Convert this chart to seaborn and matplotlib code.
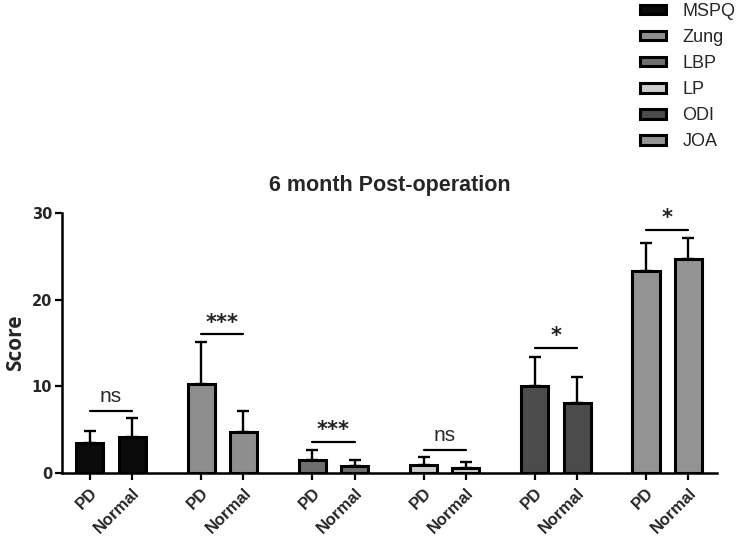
import numpy as np
import pandas as pd
import seaborn as sns
import matplotlib
matplotlib.use("Agg")
import matplotlib.pyplot as plt
from matplotlib.patches import Patch

# ---- data ----
metrics = ["MSPQ", "Zung", "LBP", "LP", "ODI", "JOA"]
groups = ["PD", "Normal"]
pd_means = [3.5, 10.3, 1.5, 0.9, 10.0, 23.3]
normal_means = [4.2, 4.7, 0.8, 0.6, 8.1, 24.7]
pd_err = [1.4, 4.8, 1.2, 0.9, 3.4, 3.2]
normal_err = [2.1, 2.4, 0.7, 0.7, 3.0, 2.4]
sig_labels = ["ns", "***", "***", "ns", "*", "*"]
sig_heights = [7.1, 16.0, 3.6, 2.65, 14.4, 28.1]
colors = ["#0b0b0b", "#8e8e8e", "#6f6f6f", "#cdcdcd", "#4b4b4b", "#939393"]
yticks = [0, 10, 20, 30]

df = pd.DataFrame({
    "metric": metrics * 2,
    "group": ["PD"] * 6 + ["Normal"] * 6,
    "score": pd_means + normal_means,
    "err": pd_err + normal_err,
})

sns.set_style("ticks")
plt.rcParams["font.family"] = ["Liberation Sans", "DejaVu Sans"]

fig = plt.figure(figsize=(7.44, 5.38), dpi=100)
ax = fig.add_axes([0.0833, 0.1208, 0.8807, 0.4832])

sns.barplot(data=df, x="metric", y="score", hue="group", order=metrics,
            hue_order=groups, errorbar=None, width=0.76, gap=0.36,
            palette=["#888888", "#888888"], edgecolor="black", linewidth=2.2,
            legend=False, ax=ax, zorder=3)

# recolor and get bar centers
centers = {}
bars = list(ax.patches)[:12]
for p in bars:
    cx = p.get_x() + p.get_width() / 2
    ci = int(round(cx))
    p.set_facecolor(colors[ci])
    gi = 0 if cx < ci else 1
    centers[(ci, gi)] = cx

xs, ys, es = [], [], []
for i in range(6):
    xs += [centers[(i, 0)], centers[(i, 1)]]
    ys += [pd_means[i], normal_means[i]]
    es += [pd_err[i], normal_err[i]]
ax.errorbar(xs, ys, yerr=[np.zeros(len(es)), es], fmt="none", ecolor="black",
            elinewidth=1.7, capsize=4.5, capthick=1.7, zorder=2)

# significance lines
for i in range(6):
    x0, x1 = centers[(i, 0)], centers[(i, 1)]
    h = sig_heights[i]
    ax.plot([x0, x1], [h, h], color="black", lw=1.6, zorder=4)
    lab = sig_labels[i]
    if lab == "ns":
        ax.text((x0 + x1) / 2, h + 0.6, lab, ha="center", va="bottom",
                fontsize=15, color="#2a2a2a")
    else:
        ax.text((x0 + x1) / 2, h + 0.2, lab, ha="center", va="bottom",
                fontsize=15, fontweight="bold", color="#222222",
                family="DejaVu Sans")

ax.set_xlim(-0.44, 5.45)
ax.set_ylim(0, 30)
ax.set_yticks(yticks)
ax.set_yticklabels([str(t) for t in yticks], fontsize=10.5, fontweight="bold",
                   family="DejaVu Sans")
ax.set_xticks(xs)
ax.set_xticklabels(groups * 6, rotation=45, ha="right", rotation_mode="anchor",
                   fontsize=12, fontweight="bold")
ax.tick_params(axis="both", width=1.6, length=5, color="black")
ax.tick_params(axis="x", pad=4)
ax.tick_params(axis="y", pad=2)
for s in ["left", "bottom"]:
    ax.spines[s].set_linewidth(1.8)
    ax.spines[s].set_color("black")
sns.despine(ax=ax)
ax.set_xlabel("")
ax.set_ylabel("Score", fontsize=15, fontweight="bold", family="Open Sans", labelpad=4)
ax.set_title("6 month Post-operation", fontsize=15.5, fontweight="bold", pad=16)

handles = [Patch(facecolor=c, edgecolor="black", linewidth=2.2) for c in colors]
fig.legend(handles, metrics, loc="upper left", bbox_to_anchor=(640 / 744, 1 - 3 / 538),
           frameon=False, fontsize=13, handlelength=1.45, handleheight=0.45,
           labelspacing=0.5, handletextpad=0.9, borderpad=0, borderaxespad=0)

fig.savefig("out.png", dpi=100)
